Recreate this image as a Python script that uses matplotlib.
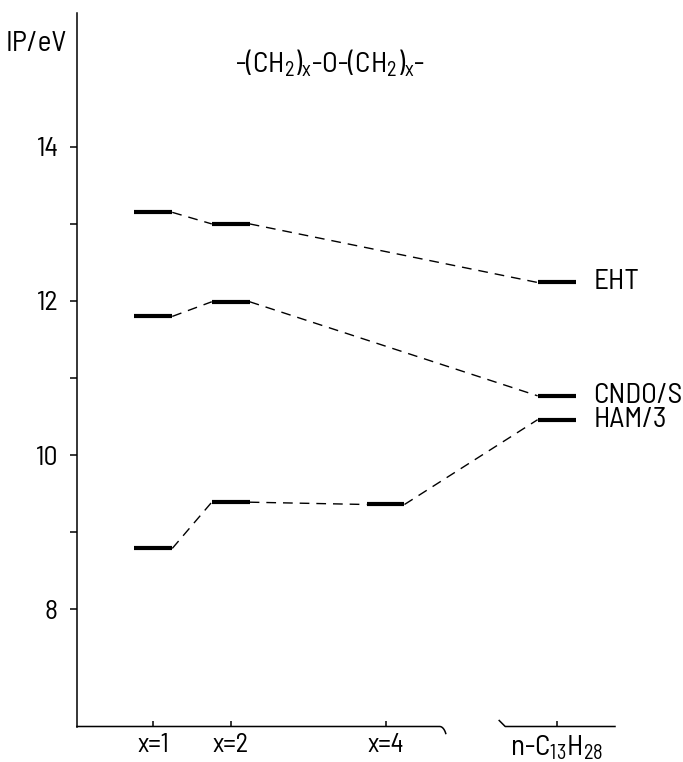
import numpy as np
import matplotlib
matplotlib.use("Agg")
import matplotlib.pyplot as plt
from matplotlib import font_manager
from matplotlib.transforms import blended_transform_factory

# ---- data ----
categories = ["x=1", "x=2", "x=4", "n-C$_{13}$H$_{28}$"]
x_values = [1, 2, 4, 6.21]          # horizontal positions of the categories
series_names = ["EHT", "CNDO/S", "HAM/3"]
eht = [13.15, 13.00, None, 12.24]
cndo = [11.80, 11.99, None, 10.77]
ham = [8.79, 9.39, 9.36, 10.46]
y_ticks = [8, 9, 10, 11, 12, 13, 14]
y_ticklabels = ["8", "", "10", "", "12", "", "14"]
title = "-(CH$_2$)$_\\mathrm{x}$-O-(CH$_2$)$_\\mathrm{x}$-"
ylabel = "IP/eV"

# ---- font ----
names = {f.name for f in font_manager.fontManager.ttflist}
fam = "DejaVu Sans"
for cand in ["Barlow Semi Condensed", "Barlow", "Barlow Condensed"]:
    if cand in names:
        fam = cand
        break
plt.rcParams["font.family"] = [fam, "DejaVu Sans"]
plt.rcParams["mathtext.fontset"] = "custom"
plt.rcParams["mathtext.rm"] = fam
plt.rcParams["mathtext.it"] = fam
plt.rcParams["mathtext.default"] = "rm"

fig = plt.figure(figsize=(6.83, 7.62), dpi=100)
ax = fig.add_axes([77 / 683, 35.5 / 762, (615 - 77) / 683, (726.5 - 12.7) / 762])
ax.set_xlim(0.014, 6.965)
ax.set_ylim(6.48, 15.74)

for s in ["top", "right", "bottom"]:
    ax.spines[s].set_visible(False)
ax.spines["left"].set_linewidth(1.1)

hw = 0.245
series = [eht, cndo, ham]
for vals in series:
    pts = [(x, v) for x, v in zip(x_values, vals) if v is not None]
    for x, v in pts:
        ax.plot([x - hw, x + hw], [v, v], color="black", lw=3.0,
                solid_capstyle="butt")
    for (x0, v0), (x1, v1) in zip(pts[:-1], pts[1:]):
        ln, = ax.plot([x0 + hw, x1 - hw], [v0, v1], color="black", lw=1.0)
        ln.set_dashes((7, 5))
# series labels
for name, vals in zip(series_names, series):
    ax.annotate(name, xy=(x_values[-1] + hw, vals[-1]), xytext=(13, 0),
                textcoords="offset points", va="center", ha="left",
                fontsize=21, annotation_clip=False)

# broken x axis
trans = blended_transform_factory(ax.transData, ax.transAxes)
px = 1 / 77.4  # one pixel in data units (x)
py = 1 / 713.8  # one pixel in axes units (y)
x_end1 = 4.70
t = np.linspace(0, np.pi / 3, 12)
r = 7 * px
seg1_x = np.concatenate([[ax.get_xlim()[0]], x_end1 + r * np.sin(t)])
seg1_y = np.concatenate([[0], -(7 * py) * (1 - np.cos(t)) / (1 - np.cos(np.pi / 3))])
ax.plot(seg1_x, seg1_y, transform=trans, color="black", lw=1.1, clip_on=False)
x_start2 = 5.469
seg2_x = [x_start2, x_start2 + 6 * px, ax.get_xlim()[1]]
seg2_y = [6 * py, 0, 0]
ax.plot(seg2_x, seg2_y, transform=trans, color="black", lw=1.1, clip_on=False)

ax.set_xticks(x_values)
ax.set_xticklabels(categories, fontsize=19)
ax.get_xticklabels()[-1].set_fontsize(21)
ax.tick_params(axis="x", direction="in", length=4.3, width=1.1, pad=5)
ax.set_yticks(y_ticks)
ax.set_yticklabels(y_ticklabels, fontsize=20)
ax.tick_params(axis="y", direction="out", length=5, width=1.1, pad=9)

ax.annotate(ylabel, xy=(0, 15.33), xycoords=("axes fraction", "data"),
            xytext=(-7, 0), textcoords="offset points", ha="right",
            va="center", fontsize=21, annotation_clip=False)
ax.text(3.28, 15.09, title, ha="center", va="center", fontsize=21)

fig.savefig("out.png", dpi=100)
